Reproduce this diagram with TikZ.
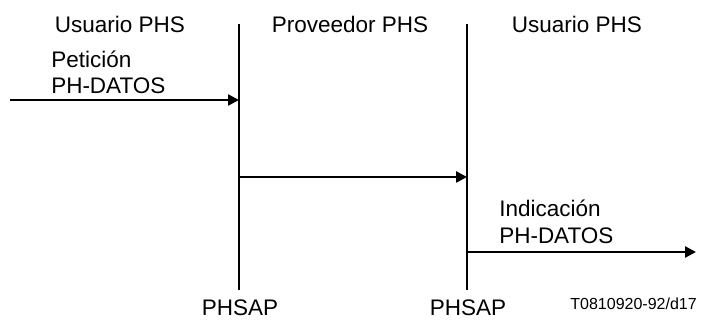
\documentclass[tikz,border=0pt]{standalone}
\usepackage{fontspec}
\setmainfont{Liberation Sans}
\usetikzlibrary{arrows.meta}

\begin{document}
\begin{tikzpicture}[x=1pt, y=-1pt, line width=2.5pt,
    every node/.style={inner sep=0pt, font=\fontsize{22.5}{27}\selectfont},
    msg/.style={-{Triangle[length=11pt, width=11pt]}}]
    \useasboundingbox (0,0) rectangle (709,320);

    \node[anchor=base] at (120,33)        (user1)  {Usuario PHS};
    \node[anchor=base] at (350,33)        (prov)   {Proveedor PHS};
    \node[anchor=base] at (577,33)        (user2)  {Usuario PHS};
    \node[anchor=base west] at (50,68)    (req1)   {Petición};
    \node[anchor=base west] at (50,94)    (req2)   {PH-DATOS};
    \node[anchor=base west] at (498,217)  (ind1)   {Indicación};
    \node[anchor=base west] at (498,244)  (ind2)   {PH-DATOS};
    \node[anchor=base] at (240,315)       (sap1)   {PHSAP};
    \node[anchor=base] at (468,315)       (sap2)   {PHSAP};
    \node[anchor=base east, font=\fontsize{16}{19}\selectfont] at (698,309) (ref) {T0810920-92/d17};

    \coordinate (sap1-top) at (239,24);
    \coordinate (sap1-bot) at (239,290);
    \coordinate (sap2-top) at (467,24);
    \coordinate (sap2-bot) at (467,290);
    \coordinate (in)       at (10,100);
    \coordinate (in-end)   at (239,100);
    \coordinate (mid)      at (239,177);
    \coordinate (mid-end)  at (467,177);
    \coordinate (out)      at (467,252);
    \coordinate (out-end)  at (696,252);

    \draw (sap1-top) -- (sap1-bot);
    \draw (sap2-top) -- (sap2-bot);
    \draw[msg] (in) -- (in-end);
    \draw[msg] (mid) -- (mid-end);
    \draw[msg] (out) -- (out-end);
\end{tikzpicture}
\end{document}
